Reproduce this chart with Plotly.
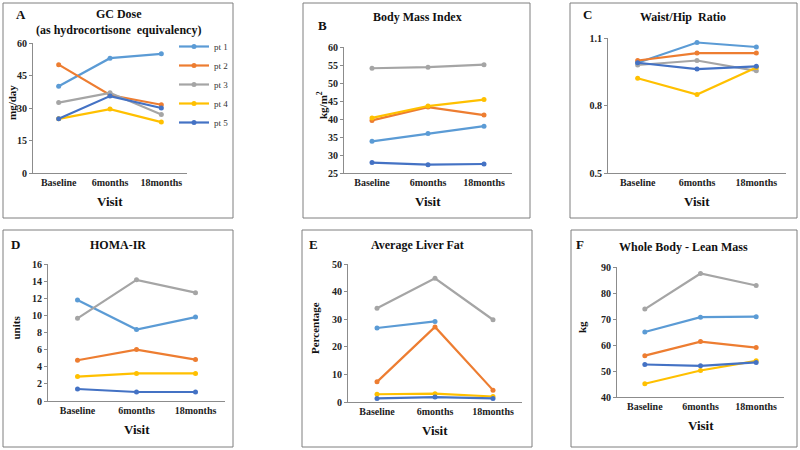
import plotly.graph_objects as go

# visits on the x axis
visits = ['Baseline', '6months', '18months']
patients = ['pt 1', 'pt 2', 'pt 3', 'pt 4', 'pt 5']
colors = ['#5B9BD5', '#ED7D31', '#A5A5A5', '#FFC000', '#4472C4']

# A - GC dose (mg/day)
gc_dose = [[40, 53, 55],
           [50, 36, 31.5],
           [32.5, 37, 27],
           [25, 29.5, 23.5],
           [25, 35.5, 30]]

# B - body mass index
bmi = [[33.8, 36.0, 38.0],
       [39.6, 43.3, 41.1],
       [54.1, 54.4, 55.1],
       [40.3, 43.6, 45.4],
       [27.9, 27.3, 27.5]]

# C - waist/hip ratio
whr = [[0.99, 1.08, 1.06],
       [1.00, 1.033, 1.033],
       [0.98, 1.00, 0.954],
       [0.921, 0.849, 0.969],
       [0.99, 0.962, 0.974]]

# D - HOMA-IR
homa = [[11.8, 8.35, 9.8],
        [4.76, 6.0, 4.84],
        [9.65, 14.15, 12.65],
        [2.85, 3.22, 3.22],
        [1.4, 1.05, 1.05]]

# E - average liver fat (%)
liver_fat = [[26.8, 29.2, None],
             [7.3, 27.2, 4.3],
             [34.0, 44.8, 29.8],
             [2.8, 3.0, 2.0],
             [1.3, 1.8, 1.3]]

# F - whole body lean mass (kg)
lean_mass = [[65.0, 70.7, 70.9],
             [55.9, 61.3, 59.0],
             [73.8, 87.5, 82.9],
             [45.1, 50.2, 53.9],
             [52.5, 52.0, 53.3]]

W, H = 800, 450

def px(x):
    return x / W

def py(y):
    return 1 - y / H

SERIF = 'Liberation Serif'

# panel settings: data, title, letter, ytitle, yrange, ticks, plot box (px), frame box (px)
panels = [
    dict(data=gc_dose, title='GC Dose<br>(as hydrocortisone  equivalency)', letter='A',
         ytitle='mg/day', yr=[0, 60], dtick=15, plot=(33, 187, 43, 173),
         frame=(3, 233, 3, 218), title_xy=(118, 22), letter_xy=(21, 15), ytitle_x=12),
    dict(data=bmi, title='Body Mass Index', letter='B',
         ytitle='kg/m<sup>2</sup>', yr=[25, 60], dtick=5, plot=(344, 512, 47, 173),
         frame=(303, 530, 3, 218), title_xy=(417, 17), letter_xy=(322, 25), ytitle_x=322),
    dict(data=whr, title='Waist/Hip  Ratio', letter='C',
         ytitle=None, yr=[0.5, 1.1], dtick=0.3, plot=(608, 786, 38, 173),
         frame=(570, 797, 3, 218), title_xy=(683, 17), letter_xy=(587, 15), ytitle_x=None),
    dict(data=homa, title='HOMA-IR', letter='D',
         ytitle='units', yr=[0, 16], dtick=2, plot=(48, 225, 264, 401),
         frame=(3, 233, 230, 447), title_xy=(118, 245), letter_xy=(15, 245), ytitle_x=15),
    dict(data=liver_fat, title='Average Liver Fat', letter='E',
         ytitle='Percentage', yr=[0, 50], dtick=10, plot=(348, 522, 264, 402),
         frame=(302, 532, 230, 447), title_xy=(417, 245), letter_xy=(313, 245), ytitle_x=315),
    dict(data=lean_mass, title='Whole Body - Lean Mass', letter='F',
         ytitle='kg', yr=[40, 90], dtick=10, plot=(617, 784, 267, 397),
         frame=(571, 797, 230, 447), title_xy=(683, 247), letter_xy=(580, 245), ytitle_x=582),
]

fig = go.Figure()
annotations = []
shapes = []
layout_axes = {}


def note(text, x, y, size, angle=0):
    return dict(text=text, x=px(x), y=py(y), xref='paper', yref='paper',
                showarrow=False, xanchor='center', yanchor='middle', textangle=angle,
                font=dict(family=SERIF, size=size, color='#111', weight='bold'))


for i, p in enumerate(panels):
    n = i + 1
    xa = 'x' if n == 1 else f'x{n}'
    ya = 'y' if n == 1 else f'y{n}'
    x0, x1, y0, y1 = p['plot']
    for k, pt in enumerate(patients):
        fig.add_trace(go.Scatter(
            x=visits, y=p['data'][k], mode='lines+markers', name=pt,
            line=dict(color=colors[k], width=2.2),
            marker=dict(color=colors[k], size=5),
            xaxis=xa, yaxis=ya, showlegend=(n == 1),
            cliponaxis=False))
    layout_axes['xaxis' if n == 1 else f'xaxis{n}'] = dict(
        domain=[px(x0), px(x1)], anchor=ya, type='category',
        range=[-0.5, 2.5], showline=True, linecolor='#8c8c8c', linewidth=1.2,
        showgrid=False, zeroline=False, ticks='', automargin=False,
        tickfont=dict(family=SERIF, size=10, color='#222', weight='bold'))
    layout_axes['yaxis' if n == 1 else f'yaxis{n}'] = dict(
        domain=[py(y1), py(y0)], anchor=xa, range=p['yr'], dtick=p['dtick'],
        tick0=p['yr'][0], showline=True, linecolor='#8c8c8c', linewidth=1.2,
        showgrid=False, zeroline=False, ticks='outside', ticklen=3,
        tickcolor='#8c8c8c', automargin=False,
        tickfont=dict(family=SERIF, size=10, color='#222', weight='bold'))

    fx0, fx1, fy0, fy1 = p['frame']
    shapes.append(dict(type='rect', xref='paper', yref='paper',
                       x0=px(fx0), x1=px(fx1), y0=py(fy1), y1=py(fy0),
                       line=dict(color='#7f7f7f', width=1)))
    tx, ty = p['title_xy']
    annotations.append(note(p['title'], tx, ty, 12))
    lx, ly = p['letter_xy']
    annotations.append(note(p['letter'], lx, ly, 13))
    annotations.append(note('Visit', (x0 + x1) / 2, y1 + 28, 13))
    if p['ytitle']:
        annotations.append(note(p['ytitle'], p['ytitle_x'], (y0 + y1) / 2 - 5, 11, -90))

fig.update_layout(
    width=W, height=H, margin=dict(l=0, r=0, t=0, b=0, autoexpand=False),
    plot_bgcolor='white', paper_bgcolor='white',
    shapes=shapes, annotations=annotations,
    legend=dict(x=px(174), y=py(32), xanchor='left', yanchor='top',
                font=dict(family=SERIF, size=9, color='#333'),
                itemwidth=30, tracegroupgap=0, bgcolor='rgba(0,0,0,0)'),
    **layout_axes)

fig.write_html('out.html', config={'displayModeBar': False},
               post_script="document.body.style.margin='0';")
